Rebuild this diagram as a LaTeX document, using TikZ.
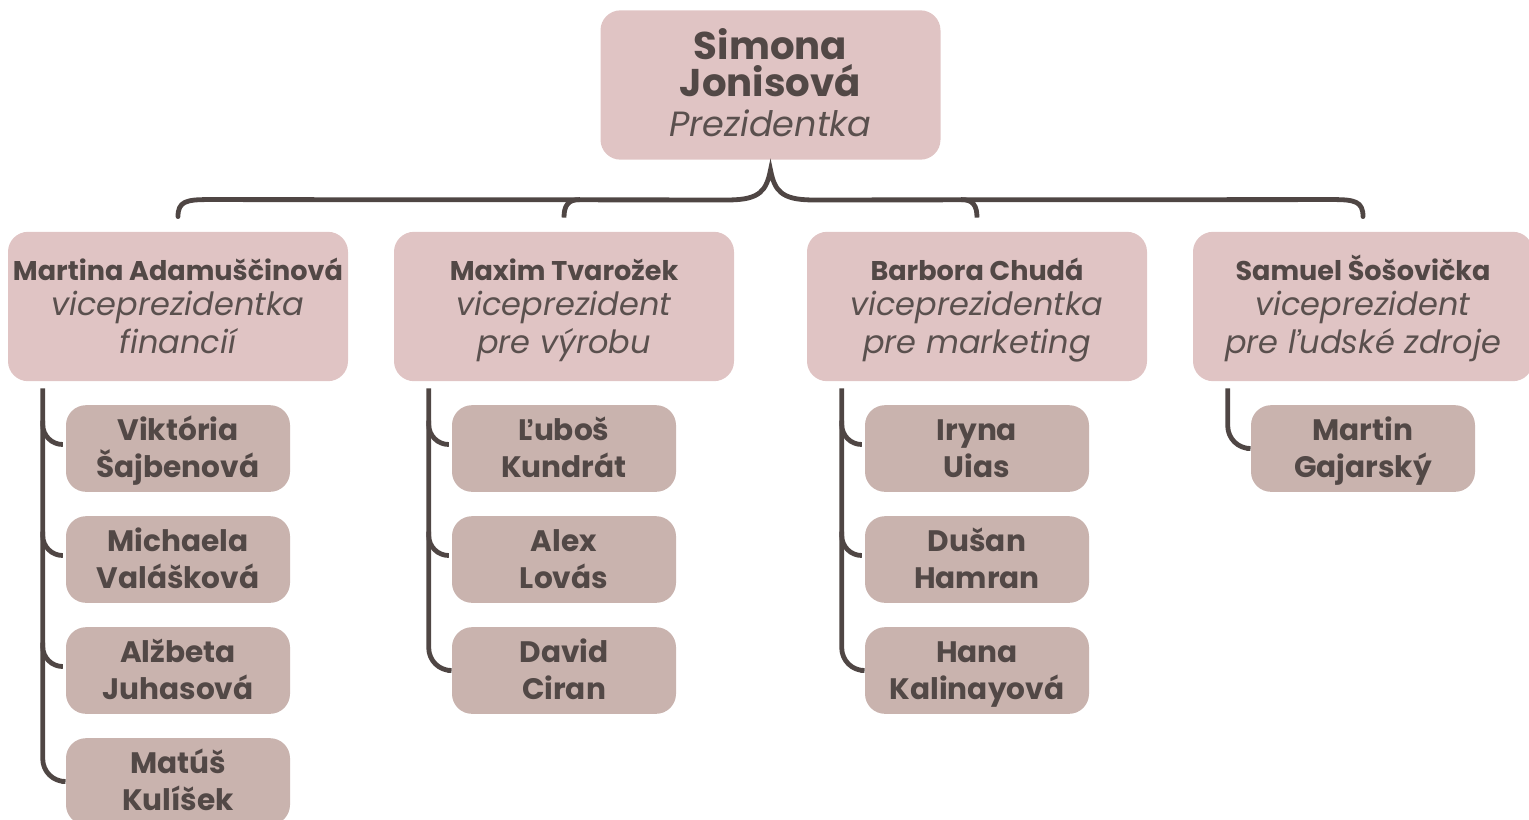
\documentclass[tikz,border=0pt]{standalone}
\usepackage{fontspec}
\setmainfont{Poppins}
\usetikzlibrary{calc}
\definecolor{topfill}{HTML}{E0C4C4}
\definecolor{subfill}{HTML}{C9B3AE}
\definecolor{txt}{HTML}{524846}
\definecolor{itx}{HTML}{5A504E}
\definecolor{conn}{HTML}{4F4644}
\tikzset{
  bigbox/.style={fill=topfill, draw=none, rounded corners=15pt, minimum width=255pt, minimum height=112pt, inner sep=0pt},
  smallbox/.style={fill=subfill, draw=none, rounded corners=15pt, minimum width=168pt, minimum height=65pt, inner sep=0pt},
  connline/.style={draw=conn, line width=3.6pt},
  topname/.style={anchor=base, align=center, text=txt, font=\fontsize{29}{27.5}\selectfont\bfseries, inner sep=0pt},
  toptitle/.style={anchor=base, text=itx, font=\fontsize{26.3}{26.3}\selectfont\itshape, inner sep=0pt},
  vpname/.style={anchor=base, text=txt, font=\fontsize{20.3}{20.3}\selectfont\bfseries, inner sep=0pt},
  vptitle/.style={anchor=base, text=itx, font=\fontsize{24}{24}\selectfont\itshape, inner sep=0pt},
  chname/.style={anchor=base, text=txt, font=\fontsize{22.2}{22.2}\selectfont\bfseries, inner sep=0pt},
}
\begin{document}
\begin{tikzpicture}[x=0.75pt,y=-0.75pt]
\useasboundingbox (0,0) rectangle (1529,819);
% top box
\node[bigbox] (top) at (770.5,85) {};
\node[topname] (topn) at (770.5,96) {Simona\\Jonisová};
\node[toptitle] (topt) at (770.5,136) {Prezidentka};
% VP boxes
\foreach \n/\x/\a/\b/\c in {
  vpa/178/Martina Adamuščinová/viceprezidentka/financií,
  vpb/564/Maxim Tvarožek/viceprezident/pre výrobu,
  vpc/977/Barbora Chudá/viceprezidentka/pre marketing,
  vpd/1363/Samuel Šošovička/viceprezident/pre ľudské zdroje}{
  \node[bigbox] (\n) at (\x,306.5) {};
  \node[vpname] (\n-1) at (\x,280) {\a};
  \node[vptitle] (\n-2) at (\x,315) {\b};
  \node[vptitle] (\n-3) at (\x,353) {\c};
}
% children
\foreach \n/\x/\y/\a/\b in {
  a1/178/448.5/Viktória/Šajbenová,
  a2/178/559.5/Michaela/Valášková,
  a3/178/670.5/Alžbeta/Juhasová,
  a4/178/781.5/Matúš/Kulíšek,
  b1/564/448.5/Ľuboš/Kundrát,
  b2/564/559.5/Alex/Lovás,
  b3/564/670.5/David/Ciran,
  c1/977/448.5/Iryna/Uias,
  c2/977/559.5/Dušan/Hamran,
  c3/977/670.5/Hana/Kalinayová,
  d1/1363/448.5/Martin/Gajarský}{
  \node[smallbox] (\n) at (\x,\y) {};
  \node[chname] (\n-1) at (\x,\y-8.5) {\a};
  \node[chname] (\n-2) at (\x,\y+28.5) {\b};
}
% top brace
\coordinate (tip) at ($(top.south)+(0,10)$);
\path[connline, line cap=round]
  ($(vpa.north)+(0,-15)$) .. controls ($(vpa.north)+(0,-30)$) and ($(vpa.north)+(8,-32)$) .. ($(vpa.north)+(30,-32)$)
  -- ($(tip)+(-42,30)$) .. controls ($(tip)+(-10,30)$) and ($(tip)+(-4,20)$) .. (tip)
  .. controls ($(tip)+(4,20)$) and ($(tip)+(10,30)$) .. ($(tip)+(42,30)$)
  -- ($(vpd.north)+(-30,-32)$) .. controls ($(vpd.north)+(-8,-32)$) and ($(vpd.north)+(0,-30)$) .. ($(vpd.north)+(0,-15)$);
\path[connline] ($(vpb.north)+(0,-14)$) .. controls ($(vpb.north)+(0,-26)$) and ($(vpb.north)+(4,-32)$) .. ($(vpb.north)+(16,-32)$);
\path[connline] ($(vpc.north)+(0,-14)$) .. controls ($(vpc.north)+(0,-26)$) and ($(vpc.north)+(-4,-32)$) .. ($(vpc.north)+(-16,-32)$);
% child connectors
\foreach \v/\last/\others in {vpa/a4/{a1,a2,a3}, vpb/b3/{b1,b2}, vpc/c3/{c1,c2}, vpd/d1/{}}{
  \coordinate (\v-s) at ($(\v.south west)+(35,7)$);
  \path[connline, rounded corners=17pt] (\v-s) |- ($(\last.west)+(-4,0)$);
  \foreach \c in \others {
    \path[connline, rounded corners=15pt] (\v-s |- {$(\c.west)+(0,-28)$}) |- ($(\c.west)+(-4,-4)$);
  }
}
\end{tikzpicture}
\end{document}
